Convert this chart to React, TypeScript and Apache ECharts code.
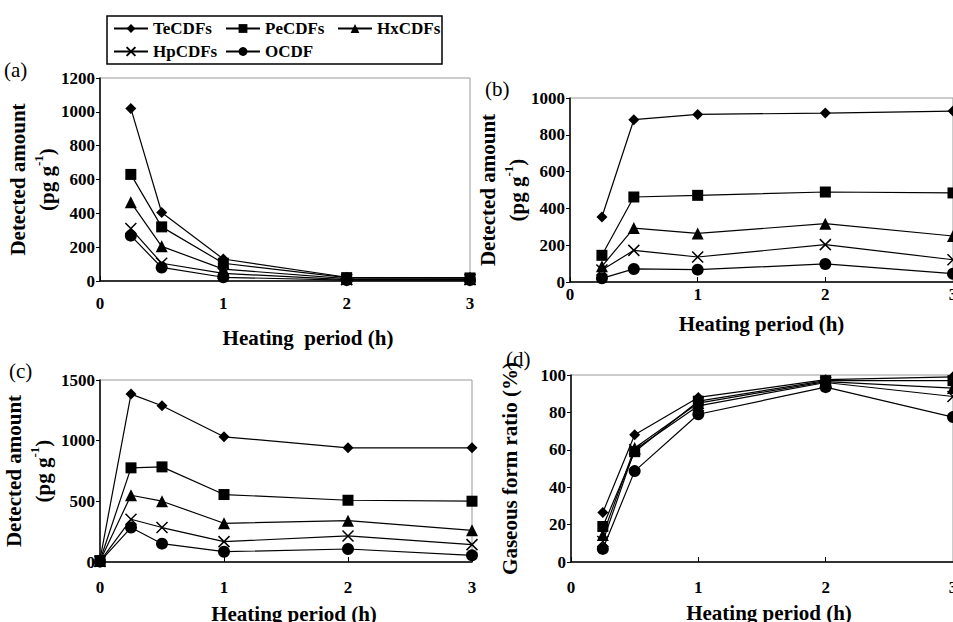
import React, { useEffect, useRef } from "react";
import * as echarts from "echarts";

const NAMES = ["TeCDFs", "PeCDFs", "HxCDFs", "HpCDFs", "OCDF"];
const X_ABD = [0.25, 0.5, 1, 2, 3];
const X_C = [0, 0.25, 0.5, 1, 2, 3];

// (a)
const A_TE = [1020, 405, 130, 22, 20];
const A_PE = [630, 320, 105, 20, 18];
const A_HX = [465, 205, 70, 14, 12];
const A_HP = [310, 105, 45, 8, 8];
const A_OC = [268, 80, 22, 5, 5];
// (b)
const B_TE = [353, 882, 911, 918, 929];
const B_PE = [145, 462, 471, 489, 484];
const B_HX = [85, 293, 264, 317, 250];
const B_HP = [65, 172, 136, 203, 121];
const B_OC = [20, 71, 67, 98, 45];
// (c)
const C_TE = [20, 1384, 1288, 1032, 941, 941];
const C_PE = [12, 776, 784, 556, 509, 501];
const C_HX = [8, 550, 501, 319, 341, 261];
const C_HP = [5, 352, 284, 168, 215, 143];
const C_OC = [3, 284, 151, 85, 107, 55];
// (d)
const D_TE = [26.5, 68, 88, 97.5, 99];
const D_PE = [19, 59, 86, 97, 97];
const D_HX = [14.5, 61, 85, 96.5, 93];
const D_HP = [11, 60, 83.5, 96, 88.5];
const D_OC = [7, 48.6, 79, 93.5, 77.5];

const Y_MAX = [1200, 1000, 1500, 100];
const Y_INT = [200, 200, 500, 20];
const PANEL_LABELS = ["(a)", "(b)", "(c)", "(d)"];

const FONT = "Liberation Serif";
const XPATH = "path://M0,0L10,10M10,0L0,10";
const SYMBOLS = ["diamond", "rect", "triangle", XPATH, "circle"];
const SIZES = [11, 11, 12, 11, 12];

export default function App() {
  const ref = useRef<HTMLDivElement>(null);
  useEffect(() => {
    if (!ref.current) return;
    const chart = echarts.init(ref.current, null, { renderer: "svg" });

    const panels = [
      { xs: X_ABD, data: [A_TE, A_PE, A_HX, A_HP, A_OC] },
      { xs: X_ABD, data: [B_TE, B_PE, B_HX, B_HP, B_OC] },
      { xs: X_C, data: [C_TE, C_PE, C_HX, C_HP, C_OC] },
      { xs: X_ABD, data: [D_TE, D_PE, D_HX, D_HP, D_OC] },
    ];

    const grids = [
      { left: 100, right: 483, top: 78, bottom: 341 },
      { left: 570, right: 0, top: 98, bottom: 340 },
      { left: 100, right: 481, top: 380, bottom: 60 },
      { left: 571, right: 0, top: 375, bottom: 60 },
    ].map((g) => ({
      ...g,
      show: true,
      containLabel: false,
      outerBoundsMode: "none",
      borderColor: "#999",
      borderWidth: 1,
      backgroundColor: "transparent",
    }));

    const xNameGap = [46, 31, 41, 40];
    const xNamePad = [[0, 0, 0, 46], [0, 0, 0, 0], [0, 0, 0, 16], [0, 0, 0, 14]];
    const xLabelMargin = [14, 4, 17, 17];
    const xName = ["Heating  period (h)", "Heating period (h)", "Heating period (h)", "Heating period (h)"];

    const xAxis = grids.map((_, i) => ({
      type: "value",
      gridIndex: i,
      min: 0,
      max: 3,
      interval: 1,
      name: xName[i],
      nameLocation: "middle",
      nameGap: xNameGap[i],
      nameTextStyle: { fontFamily: FONT, fontWeight: "bold", fontSize: 21, color: "#000", padding: xNamePad[i] },
      axisLine: { show: true, onZero: false, lineStyle: { color: "#000", width: 1.5 } },
      axisTick: { show: true, inside: true, length: 5, lineStyle: { color: "#000" } },
      axisLabel: {
        fontFamily: FONT,
        fontWeight: "bold",
        fontSize: 17,
        color: "#000",
        margin: xLabelMargin[i],
        showMaxLabel: true,
        hideOverlap: false,
        formatter: (v: number) => String(v),
      },
      splitLine: { show: false },
    }));

    const richY = {
      t: { fontFamily: FONT, fontWeight: "bold", fontSize: 21, color: "#000", lineHeight: 29 },
      s: { fontFamily: FONT, fontWeight: "bold", fontSize: 13, color: "#000", verticalAlign: "top", lineHeight: 29 },
    };
    const yName = [
      "{t|Detected amount}\n{t|(pg g}{s|-1}{t|)}",
      "{t|Detected amount}\n{t|(pg g}{s|-1}{t|)}",
      "{t|Detected amount}\n{t|(pg g}{s|-1}{t|)}",
      "{t|Gaseous form ratio (%)}",
    ];
    const yNameGap = [38, 39, 43, 47];

    const yAxis = grids.map((_, i) => ({
      type: "value",
      gridIndex: i,
      min: 0,
      max: Y_MAX[i],
      interval: Y_INT[i],
      name: yName[i],
      nameLocation: "middle",
      nameRotate: 90,
      nameGap: yNameGap[i],
      nameTextStyle: { rich: richY, color: "#000" },
      axisLine: { show: true, lineStyle: { color: "#000", width: 1.5 } },
      axisTick: { show: true, length: 4, lineStyle: { color: "#000" } },
      axisLabel: {
        fontFamily: FONT,
        fontWeight: "bold",
        fontSize: 17,
        color: "#000",
        margin: 5,
        formatter: (v: number) => String(v),
      },
      splitLine: { show: false },
    }));

    const series: any[] = [];
    panels.forEach((p, pi) => {
      p.data.forEach((vals, si) => {
        series.push({
          type: "line",
          name: NAMES[si],
          xAxisIndex: pi,
          yAxisIndex: pi,
          data: p.xs.map((x, k) => [x, vals[k]]),
          symbol: SYMBOLS[si],
          symbolSize: SIZES[si],
          showAllSymbol: true,
          clip: false,
          color: "#000",
          lineStyle: { color: "#000", width: 1.2 },
          itemStyle: si === 3 ? { color: "#000", borderColor: "#000", borderWidth: 1.5 } : { color: "#000" },
          emphasis: { disabled: true },
          z: 3,
        });
      });
    });

    const legPos = [
      { left: 113, top: 20 },
      { left: 225, top: 20 },
      { left: 337, top: 20 },
      { left: 113, top: 43 },
      { left: 225, top: 43 },
    ];
    const legend = NAMES.map((n, i) => ({
      data: [n],
      left: legPos[i].left,
      top: legPos[i].top,
      padding: 0,
      itemWidth: 34,
      itemHeight: 11,
      itemGap: 0,
      selectedMode: false,
      textStyle: { fontFamily: FONT, fontWeight: "bold", fontSize: 17, color: "#000" },
    }));

    const labelPos = [
      { left: 4, top: 59 },
      { left: 485, top: 78 },
      { left: 9, top: 360 },
      { left: 506, top: 348 },
    ];

    chart.setOption({
      animation: false,
      backgroundColor: "#fff",
      grid: grids,
      xAxis,
      yAxis,
      legend,
      series,
      graphic: [
        {
          type: "rect",
          shape: { x: 107, y: 16, width: 335, height: 48 },
          style: { stroke: "#000", lineWidth: 1.5, fill: "none" },
          z: 0,
        },
        ...PANEL_LABELS.map((t, i) => ({
          type: "text",
          left: labelPos[i].left,
          top: labelPos[i].top,
          style: { text: t, font: `21px ${FONT}`, fill: "#000" },
        })),
      ],
    });

    return () => chart.dispose();
  }, []);

  return (
    <div
      ref={ref}
      style={{ position: "fixed", left: 0, top: 0, width: 953, height: 622, background: "#fff" }}
    />
  );
}
